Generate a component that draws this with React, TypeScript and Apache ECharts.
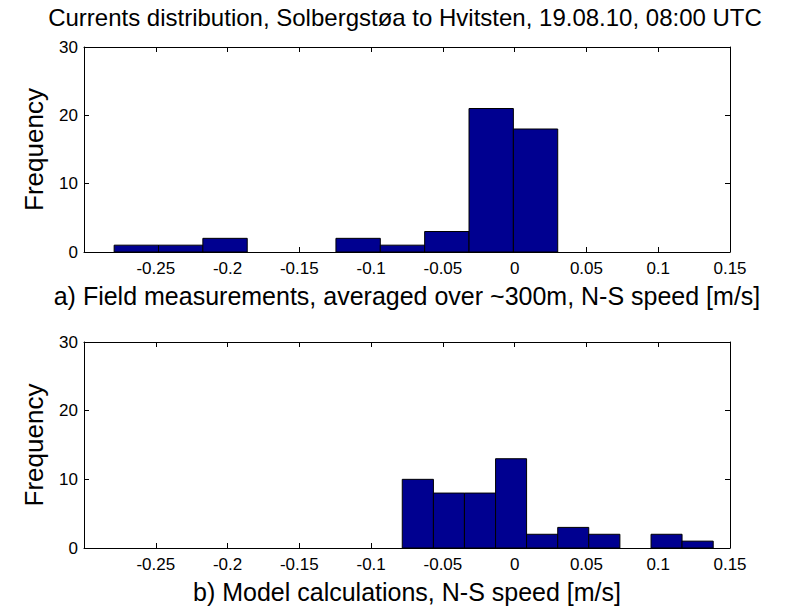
import React, { useEffect, useRef } from "react";
import * as echarts from "echarts";

const titleText = "Currents distribution, Solbergstøa to Hvitsten, 19.08.10, 08:00 UTC";
const labelA = "a) Field measurements, averaged over ~300m, N-S speed [m/s]";
const labelB = "b) Model calculations, N-S speed [m/s]";
const yName = "Frequency";

// bin edges (11 edges => 10 bins) and counts
const edgesA = [-0.279, -0.2481, -0.2172, -0.1863, -0.1554, -0.1245, -0.0936, -0.0627, -0.0318, -0.0009, 0.030];
const countsA = [1, 1, 2, 0, 0, 2, 1, 3, 21, 18];
const edgesB = [-0.0783, -0.0566, -0.035, -0.0133, 0.0083, 0.03, 0.0516, 0.0733, 0.095, 0.1166, 0.1383];
const countsB = [10, 8, 8, 13, 2, 3, 2, 0, 2, 1];

const xMin = -0.3;
const xMax = 0.15;
const xStep = 0.05;
const yMin = 0;
const yMax = 30;
const yStep = 10;

const FONT = "Liberation Sans, Arial, sans-serif";

function toRows(edges: number[], counts: number[]) {
  return counts.map((c, i) => [edges[i], edges[i + 1], c]);
}

export default function App() {
  const ref = useRef<HTMLDivElement>(null);
  useEffect(() => {
    if (!ref.current) return;
    const chart = echarts.init(ref.current, null, { renderer: "svg" });
    const fmtX = (v: number) => {
      const r = Math.round(v * 100) / 100;
      if (Math.abs(r - xMin) < 1e-9) return "";
      return String(r);
    };
    const grids = [
      { left: 84, top: 47, width: 646, height: 205 },
      { left: 84, top: 342, width: 646, height: 206 },
    ];
    const xAxes: any[] = [];
    const yAxes: any[] = [];
    const names = [labelA, labelB];
    grids.forEach((_, gi) => {
      xAxes.push({
        type: "value",
        gridIndex: gi,
        min: xMin,
        max: xMax,
        interval: xStep,
        position: "bottom",
        name: names[gi],
        nameLocation: "middle",
        nameGap: 31,
        nameTextStyle: { fontFamily: FONT, fontSize: 25, color: "#000" },
        axisLine: { show: true, onZero: false, lineStyle: { color: "#000", width: 1 } },
        axisTick: { show: true, inside: true, length: 5, lineStyle: { color: "#000" } },
        axisLabel: { formatter: fmtX, fontFamily: FONT, fontSize: 17, color: "#000", margin: 8 },
        splitLine: { show: false },
      });
      xAxes.push({
        type: "value",
        gridIndex: gi,
        min: xMin,
        max: xMax,
        interval: xStep,
        position: "top",
        axisLine: { show: true, onZero: false, lineStyle: { color: "#000", width: 1 } },
        axisTick: { show: true, inside: true, length: 5, lineStyle: { color: "#000" } },
        axisLabel: { show: false },
        splitLine: { show: false },
      });
      yAxes.push({
        type: "value",
        gridIndex: gi,
        min: yMin,
        max: yMax,
        interval: yStep,
        position: "left",
        name: yName,
        nameLocation: "middle",
        nameGap: 37,
        nameRotate: 90,
        nameTextStyle: { fontFamily: FONT, fontSize: 26, color: "#000" },
        axisLine: { show: true, onZero: false, lineStyle: { color: "#000", width: 1 } },
        axisTick: { show: true, inside: true, length: 5, lineStyle: { color: "#000" } },
        axisLabel: { fontFamily: FONT, fontSize: 17, color: "#000", margin: 6 },
        splitLine: { show: false },
      });
      yAxes.push({
        type: "value",
        gridIndex: gi,
        min: yMin,
        max: yMax,
        interval: yStep,
        position: "right",
        axisLine: { show: true, onZero: false, lineStyle: { color: "#000", width: 1 } },
        axisTick: { show: true, inside: true, length: 5, lineStyle: { color: "#000" } },
        axisLabel: { show: false },
        splitLine: { show: false },
      });
    });

    const renderItem = (params: any, api: any) => {
      const lo = api.value(0);
      const hi = api.value(1);
      const c = api.value(2);
      if (!c) return null;
      const p0 = api.coord([lo, 0]);
      const p1 = api.coord([hi, c]);
      return {
        type: "rect",
        shape: { x: p0[0], y: p1[1], width: p1[0] - p0[0], height: p0[1] - p1[1] },
        style: { fill: "#000090", stroke: "#000", lineWidth: 1 },
      };
    };

    chart.setOption({
      animation: false,
      backgroundColor: "#fff",
      grid: grids,
      xAxis: xAxes,
      yAxis: yAxes,
      graphic: [
        {
          type: "text",
          x: 405,
          y: 17,
          style: {
            text: titleText,
            align: "center",
            verticalAlign: "middle",
            fontFamily: FONT,
            fontSize: 24,
            fill: "#000",
          },
        },
      ],
      series: [
        {
          type: "custom",
          xAxisIndex: 0,
          yAxisIndex: 0,
          renderItem,
          encode: { x: [0, 1], y: 2 },
          data: toRows(edgesA, countsA),
        },
        {
          type: "custom",
          xAxisIndex: 2,
          yAxisIndex: 2,
          renderItem,
          encode: { x: [0, 1], y: 2 },
          data: toRows(edgesB, countsB),
        },
      ],
    });
    return () => chart.dispose();
  }, []);
  return (
    <div
      ref={ref}
      style={{ position: "absolute", left: 0, top: 0, width: 797, height: 606, background: "#fff" }}
    />
  );
}
